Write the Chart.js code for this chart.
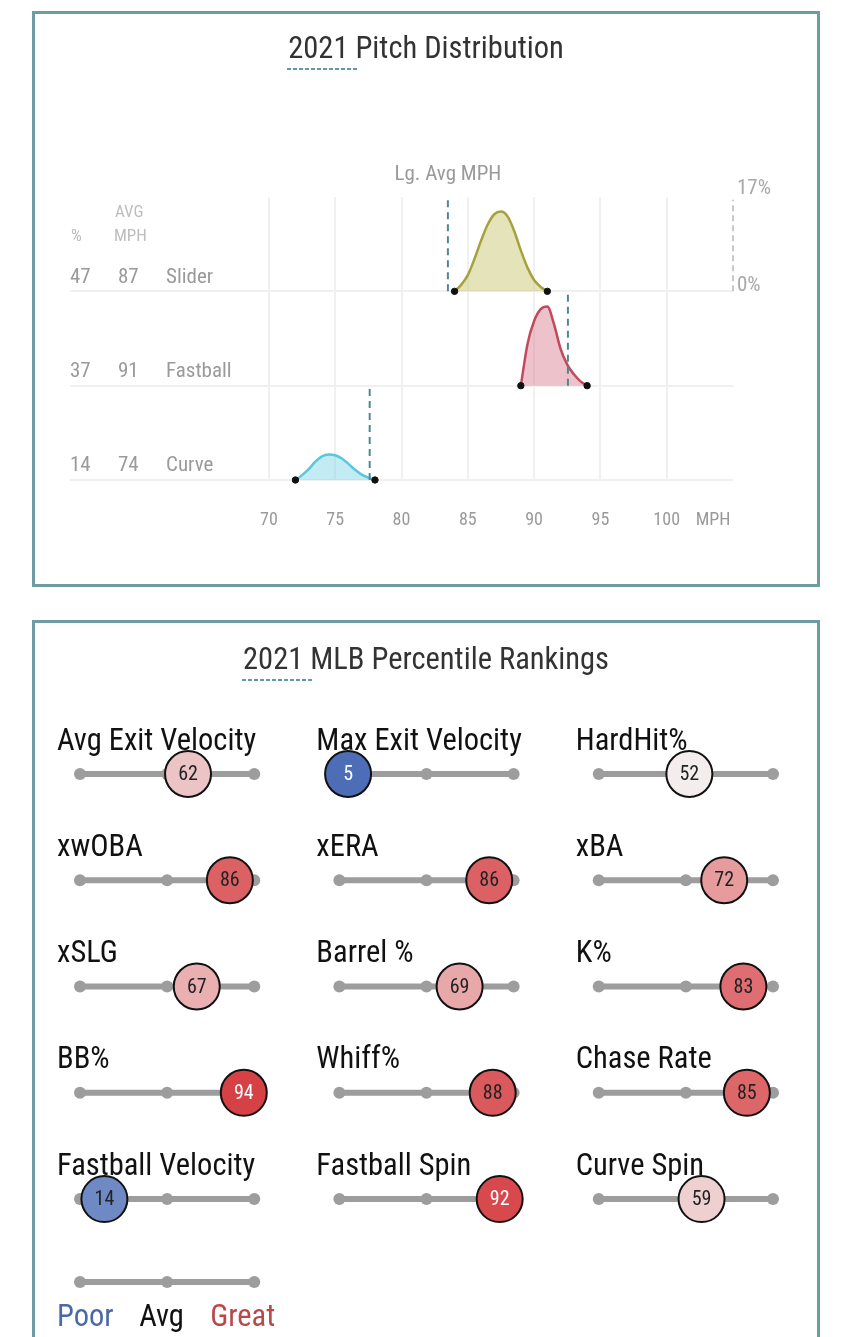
<!DOCTYPE html>
<html>
<head>
<meta charset="utf-8">
<script src="https://cdn.jsdelivr.net/npm/chart.js@4.4.1/dist/chart.umd.min.js"></script>
<style>
  html, body { margin: 0; padding: 0; background: #fff; }
  body { width: 850px; height: 1337px; position: relative; overflow: hidden;
         font-family: "Roboto Condensed","Liberation Sans Narrow","Arial Narrow","DejaVu Sans Condensed",Roboto,sans-serif; }
  .panel { position: absolute; left: 32px; width: 782px; border: 3px solid #6f9ca2; box-sizing: content-box; pointer-events: none; }
  #p1 { top: 11px; height: 570px; }
  #p2 { top: 620px; height: 760px; }
  .title { position: absolute; left: 32px; width: 788px; text-align: center; font-size: 30.5px; color: #333; line-height: 36px; }
  #t1 { top: 30px; }
  #t2 { top: 641px; }
  .yr { position: relative; }
  .yr::after { content: ""; position: absolute; left: -1px; right: -10px; bottom: -5px; height: 2px;
               background: repeating-linear-gradient(to right, #5f9aa6 0 4px, transparent 4px 6px); }
  canvas { position: absolute; left: 0; }
  #c1 { top: 0; }
  #c2 { top: 620px; }
</style>
</head>
<body>
<canvas id="c1" width="850" height="590"></canvas>
<canvas id="c2" width="850" height="717"></canvas>
<div class="panel" id="p1"></div>
<div class="panel" id="p2"></div>
<div class="title" id="t1"><span class="yr">2021</span> Pitch Distribution</div>
<div class="title" id="t2"><span class="yr">2021</span> MLB Percentile Rankings</div>
<script>
const FONT = '"Roboto Condensed","Liberation Sans Narrow","Arial Narrow","DejaVu Sans Condensed",Roboto,sans-serif';
Chart.defaults.font.family = FONT;

// ---------------- Pitch distribution data ----------------
const pitchNames = ['Slider', 'Fastball', 'Curve'];
const pitchPct   = [47, 37, 14];
const pitchAvg   = [87, 91, 74];
const lgAvgMph   = [83.5, 92.55, 77.6];

const sliderMph  = [84, 84.5, 85, 85.5, 86, 86.5, 87, 87.5, 88, 88.5, 89, 89.5, 90, 90.5, 91];
const sliderPct  = [0, 1.2, 3.0, 6.0, 9.4, 12.4, 14.3, 14.8, 13.9, 11.2, 7.6, 4.4, 2.1, 0.8, 0];
const fastballMph = [89, 89.5, 90, 90.5, 91, 91.5, 92, 92.5, 93, 93.5, 94];
const fastballPct = [0, 7.7, 12.0, 14.2, 14.7, 11.4, 6.8, 3.9, 2.1, 0.8, 0];
const curveMph   = [72, 72.5, 73, 73.5, 74, 74.5, 75, 75.5, 76, 76.5, 77, 77.5, 78];
const curvePct   = [0, 0.9, 2.0, 3.4, 4.4, 4.75, 4.6, 4.0, 3.0, 1.9, 1.0, 0.45, 0];

const xTickValues = [70, 75, 80, 85, 90, 95, 100];
const densityScaleMax = 17; // "17%" reference line

const ROW = 17.5;                        // vertical units per pitch row
const rowOffsets = [2 * ROW, ROW, 0];    // Slider top, Curve bottom
const MPH_LABEL_POS = 103.5;

const pitchSeries = [
  { mph: sliderMph,   pct: sliderPct,   stroke: '#a7a13c', fill: 'rgba(196,192,100,0.45)' },
  { mph: fastballMph, pct: fastballPct, stroke: '#c14a5f', fill: 'rgba(214,120,140,0.45)' },
  { mph: curveMph,    pct: curvePct,    stroke: '#5cc7db', fill: 'rgba(120,210,230,0.45)' }
];

const ds1 = [];
pitchSeries.forEach((s, i) => {
  const off = rowOffsets[i];
  const n = s.mph.length;
  ds1.push({
    type: 'line',
    data: s.mph.map((x, j) => ({ x, y: off + s.pct[j] })),
    borderColor: s.stroke,
    backgroundColor: s.fill,
    borderWidth: 2.5,
    fill: { value: off },
    cubicInterpolationMode: 'monotone',
    pointRadius: c => (c.dataIndex === 0 || c.dataIndex === n - 1) ? 3.2 : 0,
    pointBackgroundColor: '#111',
    pointBorderColor: '#111',
    pointBorderWidth: 1,
    clip: false,
    order: 2
  });
  ds1.push({
    type: 'line',
    data: [{ x: lgAvgMph[i], y: off }, { x: lgAvgMph[i], y: off + ROW }],
    borderColor: '#4f8990',
    borderWidth: 2,
    borderDash: [7, 5],
    pointRadius: 0,
    fill: false,
    clip: false,
    order: 1
  });
});
ds1.push({
  type: 'line',
  data: [{ x: 105, y: rowOffsets[0] }, { x: 105, y: rowOffsets[0] + densityScaleMax }],
  borderColor: '#c9c9c9',
  borderWidth: 2,
  borderDash: [6, 4],
  pointRadius: 0,
  fill: false,
  clip: false,
  order: 1
});

const pitchLabelsPlugin = {
  id: 'pitchLabels',
  afterDraw(chart) {
    const ctx = chart.ctx;
    const xs = chart.scales.x, ys = chart.scales.y;
    ctx.save();
    ctx.textBaseline = 'middle';
    // header
    ctx.fillStyle = '#bdbdbd';
    ctx.font = '17px ' + FONT;
    ctx.textAlign = 'left';
    ctx.fillText('%', 71, 237);
    ctx.fillText('AVG', 115, 213);
    ctx.fillText('MPH', 114, 237);
    // rows
    ctx.font = '21px ' + FONT;
    ctx.fillStyle = '#9a9a9a';
    pitchNames.forEach((name, i) => {
      const y = ys.getPixelForValue(rowOffsets[i]) - 14;
      ctx.fillText(String(pitchPct[i]), 70, y);
      ctx.fillText(String(pitchAvg[i]), 118, y);
      ctx.fillText(name, 166, y);
    });
    // league avg label
    ctx.font = '21px ' + FONT;
    ctx.textAlign = 'center';
    ctx.fillStyle = '#9a9a9a';
    ctx.fillText('Lg. Avg MPH', xs.getPixelForValue(lgAvgMph[0]), chart.chartArea.top - 22);
    // density scale labels
    ctx.textAlign = 'left';
    ctx.fillStyle = '#a8a8a8';
    ctx.fillText(densityScaleMax + '%', xs.right + 4, ys.getPixelForValue(rowOffsets[0] + densityScaleMax) - 11);
    ctx.fillText('0%', xs.right + 4, ys.getPixelForValue(rowOffsets[0]) - 6);
    ctx.restore();
  }
};

new Chart(document.getElementById('c1'), {
  type: 'line',
  data: { datasets: ds1 },
  options: {
    responsive: false,
    animation: false,
    events: [],
    layout: { padding: { left: 70, right: 117, top: 197, bottom: 60 } },
    plugins: { legend: { display: false }, tooltip: { enabled: false } },
    scales: {
      x: {
        type: 'linear', min: 55, max: 105,
        afterBuildTicks: s => { s.ticks = xTickValues.concat([MPH_LABEL_POS]).map(v => ({ value: v })); },
        afterFit: s => { s.height = 50; },
        grid: {
          color: c => (c.tick && c.tick.value > 100) ? 'rgba(0,0,0,0)' : '#f0f0f0',
          lineWidth: 2, drawTicks: false
        },
        border: { display: false },
        ticks: {
          autoSkip: false, maxRotation: 0, padding: 30,
          color: '#9a9a9a', font: { size: 18 },
          callback: v => v === MPH_LABEL_POS ? 'MPH' : v
        }
      },
      y: {
        type: 'linear', min: 0, max: 3 * ROW,
        afterBuildTicks: s => { s.ticks = rowOffsets.slice().reverse().map(v => ({ value: v })); },
        afterFit: s => { s.width = 0; },
        grid: { color: '#f0f0f0', lineWidth: 2, drawTicks: false },
        border: { display: false },
        ticks: { display: false }
      }
    }
  },
  plugins: [pitchLabelsPlugin]
});

// ---------------- Percentile rankings data ----------------
const metricNames = ['Avg Exit Velocity', 'Max Exit Velocity', 'HardHit%',
                     'xwOBA', 'xERA', 'xBA',
                     'xSLG', 'Barrel %', 'K%',
                     'BB%', 'Whiff%', 'Chase Rate',
                     'Fastball Velocity', 'Fastball Spin', 'Curve Spin'];
const metricValues = [62, 5, 52, 86, 86, 72, 67, 69, 83, 94, 88, 85, 14, 92, 59];
const trackStops = [0, 50, 100];
const legendLabels = ['Poor', 'Avg', 'Great'];

const COLS = 3;
const COLSTEP = 148.85;     // x units between columns
const LEGEND_ROW = 4.78;

function pctColor(v) {
  const mid = [245, 245, 245];
  const lo = [58, 95, 175], hi = [210, 40, 45];
  let t, end;
  if (v < 50) { t = (50 - v) / 50; end = lo; } else { t = (v - 50) / 50; end = hi; }
  const c = mid.map((m, k) => Math.round(m + (end[k] - m) * t));
  return 'rgb(' + c.join(',') + ')';
}

const ds2 = [];
metricValues.forEach((v, i) => {
  const col = i % COLS, row = Math.floor(i / COLS);
  ds2.push({
    type: 'line',
    data: trackStops.map(s => ({ x: col * COLSTEP + s, y: row })),
    borderColor: '#9d9d9d', borderWidth: 6, borderCapStyle: 'round',
    pointRadius: 6, pointBackgroundColor: '#9d9d9d', pointBorderWidth: 0,
    clip: false, order: 2
  });
});
ds2.push({
  type: 'line',
  data: trackStops.map(s => ({ x: s, y: LEGEND_ROW })),
  borderColor: '#9d9d9d', borderWidth: 6, borderCapStyle: 'round',
  pointRadius: 6, pointBackgroundColor: '#9d9d9d', pointBorderWidth: 0,
  clip: false, order: 2
});
ds2.push({
  type: 'scatter',
  data: metricValues.map((v, i) => ({ x: (i % COLS) * COLSTEP + v, y: Math.floor(i / COLS) })),
  pointRadius: 23,
  pointBackgroundColor: metricValues.map(pctColor),
  pointBorderColor: '#111',
  pointBorderWidth: 2,
  clip: false, order: 0
});

const pctPlugin = {
  id: 'pctLabels',
  beforeDatasetsDraw(chart) {
    const ctx = chart.ctx, xs = chart.scales.x, ys = chart.scales.y;
    ctx.save();
    ctx.textBaseline = 'middle';
    ctx.textAlign = 'left';
    ctx.font = '30.5px ' + FONT;
    ctx.fillStyle = '#111';
    metricNames.forEach((name, i) => {
      const x0 = xs.getPixelForValue((i % COLS) * COLSTEP);
      const y = ys.getPixelForValue(Math.floor(i / COLS));
      ctx.fillText(name, x0 - 23, y - 32);
    });
    const ly = ys.getPixelForValue(LEGEND_ROW) + 36;
    const lx = trackStops.map(s => xs.getPixelForValue(s));
    const legendColors = ['#4a69a6', '#111', '#b94948'];
    const legendDx = [-23, -28, -44];
    legendLabels.forEach((t, k) => {
      ctx.fillStyle = legendColors[k];
      ctx.fillText(t, lx[k] + legendDx[k], ly);
    });
    ctx.restore();
  },
  afterDatasetsDraw(chart) {
    const ctx = chart.ctx;
    const meta = chart.getDatasetMeta(chart.data.datasets.length - 1);
    ctx.save();
    ctx.textBaseline = 'middle';
    ctx.textAlign = 'center';
    ctx.font = '20px ' + FONT;
    meta.data.forEach((pt, i) => {
      const v = metricValues[i];
      ctx.fillStyle = (v <= 10 || v >= 90) ? '#fff' : '#222';
      ctx.fillText(String(v), pt.x, pt.y + 1);
    });
    ctx.restore();
  }
};

new Chart(document.getElementById('c2'), {
  type: 'line',
  data: { datasets: ds2 },
  options: {
    responsive: false,
    animation: false,
    events: [],
    layout: { padding: { left: 80, right: 77, top: 154, bottom: 55 } },
    plugins: { legend: { display: false }, tooltip: { enabled: false } },
    scales: {
      x: { type: 'linear', min: 0, max: 2 * COLSTEP + 100, display: false },
      y: { type: 'linear', min: 0, max: LEGEND_ROW, reverse: true, display: false }
    }
  },
  plugins: [pctPlugin]
});
</script>
</body>
</html>
